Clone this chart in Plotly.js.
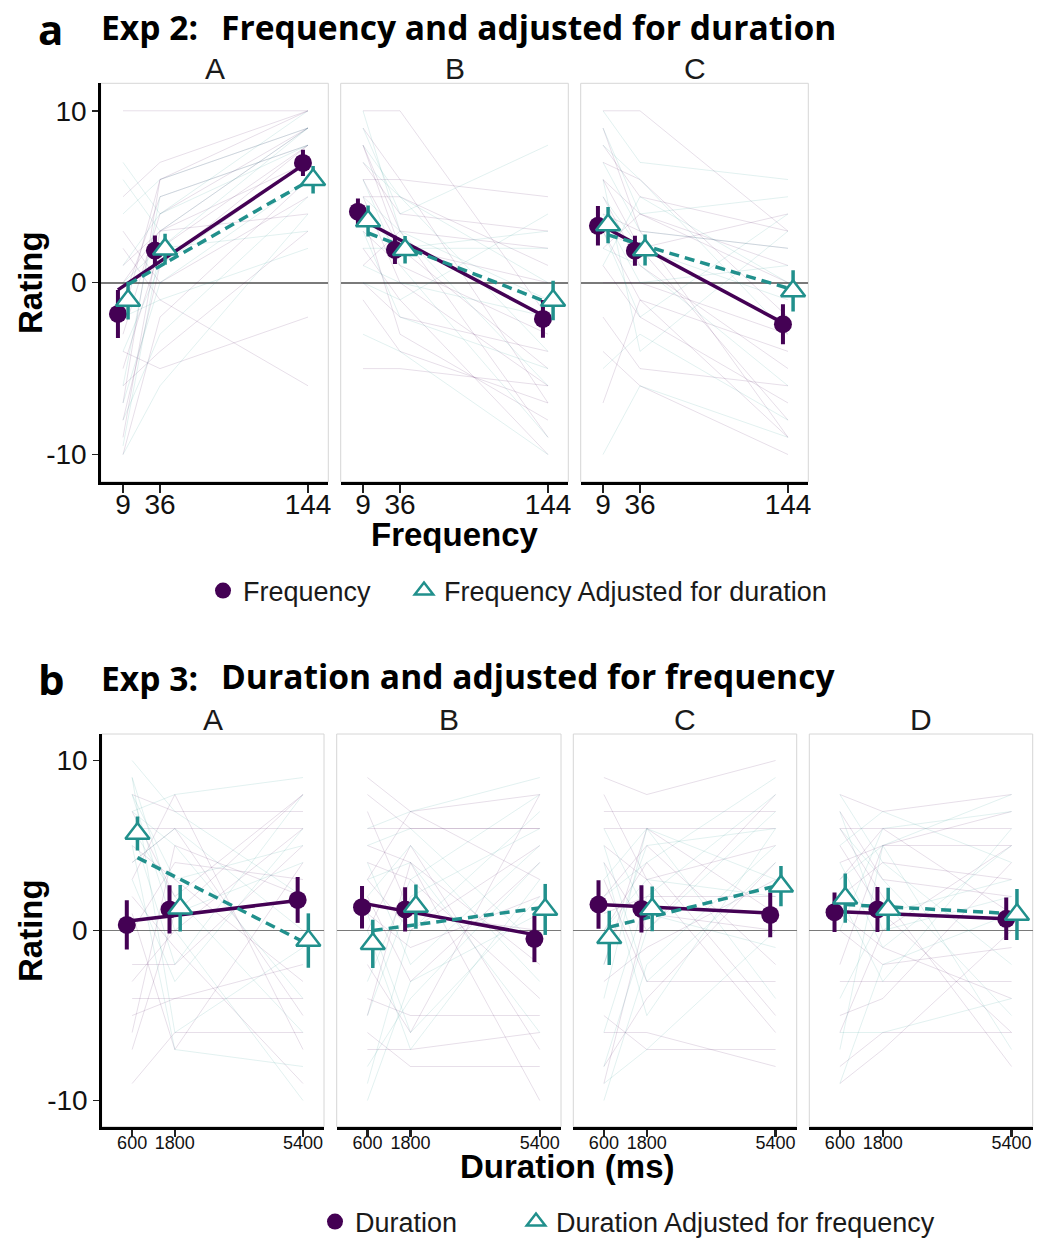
<!DOCTYPE html>
<html><head><meta charset="utf-8">
<script src="https://cdn.plot.ly/plotly-3.0.1.min.js"></script>
<style>html,body{margin:0;padding:0;background:#fff}</style>
</head><body><div id="chart" style="width:1038px;height:1241px"></div>
<script>
// ---------- DATA ----------
const freqLevels = [9, 36, 144];
const freqTickText = ['9', '36', '144'];
const durLevels = [600, 1800, 5400];
const durTickText = ['600', '1800', '5400'];
const exp2Panels = ['A', 'B', 'C'];
const exp3Panels = ['A', 'B', 'C', 'D'];
const ratingTicks = [-10, 0, 10];
const ratingTickText = ['-10', '0', '10'];

// Exp 2 group means and error half-widths
const exp2FreqMeanA = [-1.82, 1.87, 6.97];
const exp2FreqErrA  = [1.4, 0.87, 0.77];
const exp2AdjMeanA  = [-1.04, 1.95, 5.99];
const exp2AdjErrA   = [1.1, 0.9, 0.8];
const exp2FreqMeanB = [4.13, 1.91, -2.11];
const exp2FreqErrB  = [0.77, 0.82, 1.1];
const exp2AdjMeanB  = [3.59, 1.91, -1.04];
const exp2AdjErrB   = [0.9, 0.8, 1.15];
const exp2FreqMeanC = [3.31, 1.86, -2.42];
const exp2FreqErrC  = [1.15, 0.87, 1.16];
const exp2AdjMeanC  = [3.35, 1.9, -0.48];
const exp2AdjErrC   = [1.05, 0.9, 1.2];
// Exp 2 fitted line values at first and last level
const exp2FitFreqA = [-0.42, 6.84];
const exp2FitAdjA  = [-0.1, 6.07];
const exp2FitFreqB = [3.79, -1.91];
const exp2FitAdjB  = [2.89, -1.27];
const exp2FitFreqC = [3.44, -2.34];
const exp2FitAdjC  = [2.78, -0.41];

// Exp 3 group means and error half-widths
const exp3DurMeanA = [0.33, 1.24, 1.8];
const exp3DurErrA  = [1.45, 1.42, 1.35];
const exp3AdjMeanA = [5.71, 1.31, -0.59];
const exp3AdjErrA  = [1.0, 1.37, 1.6];
const exp3DurMeanB = [1.37, 1.24, -0.49];
const exp3DurErrB  = [1.25, 1.3, 1.37];
const exp3AdjMeanB = [-0.78, 1.41, 1.24];
const exp3AdjErrB  = [1.42, 1.3, 1.5];
const exp3DurMeanC = [1.53, 1.27, 0.92];
const exp3DurErrC  = [1.42, 1.39, 1.32];
const exp3AdjMeanC = [-0.43, 1.27, 2.61];
const exp3AdjErrC  = [1.6, 1.32, 1.18];
const exp3DurMeanD = [1.08, 1.24, 0.69];
const exp3DurErrD  = [1.16, 1.32, 1.25];
const exp3AdjMeanD = [1.9, 1.24, 0.94];
const exp3AdjErrD  = [1.45, 1.27, 1.5];
// Exp 3 fitted line values at first and last level
const exp3FitDurA = [0.55, 1.76];
const exp3FitAdjA = [4.29, -0.81];
const exp3FitDurB = [1.61, -0.24];
const exp3FitAdjB = [0.0, 1.37];
const exp3FitDurC = [1.53, 1.02];
const exp3FitAdjC = [0.2, 2.69];
const exp3FitDurD = [1.12, 0.69];
const exp3FitAdjD = [1.53, 0.98];

// Individual participant ratings (faint lines), estimated
const exp2IndivFreqA = [[-9,3,9],[-7,6,10],[-5,2,8],[-3,4,9],[-10,-2,6],[-2,6,9],[0,3,7],[5,7,10],[-6,-4,3],[3,0,5],[-8,1,8],[10,10,10],[-4,-5,-2],[1,3,4],[-1,5,8],[2,-1,-6]];
const exp2IndivAdjA  = [[-9.5,2,9],[-6,5,8],[-4,1,7],[7,4,10],[-8,-3,5],[0,2,3],[4,6,9],[-2,-1,2],[-7,0,6],[1,4,8],[-10,-6,4],[6,3,9]];
const exp2IndivFreqB = [[10,10,-2],[9,6,-7],[8,3,-9],[7,4,3],[6,2,-5],[5,5,1],[4,-3,-8],[3,1,-3],[2,-1,-10],[6,6,5],[-5,-5,-6],[1,3,2],[0,-2,-4],[5,0,-6],[8,2,0],[-1,-4,-7]];
const exp2IndivAdjB  = [[9,4,8],[7,5,0],[4,2,3],[6,1,-9],[3,-2,-5],[5,3,-1],[2,2,2],[-3,-4,-10],[8,5,-4],[1,0,-2],[0,-1,4],[10,3,-6]];
const exp2IndivFreqC = [[10,10,3],[8,5,3],[7,6,-2],[6,2,4],[5,1,-5],[4,3,-9],[3,-1,-4],[2,4,1],[1,-2,-7],[0,0,-3],[-2,-5,-6],[-7,-1,-9],[9,3,2],[-4,-6,-10],[6,4,0],[3,2,-8]];
const exp2IndivAdjC  = [[9,4,5],[7,3,2],[5,2,-1],[4,0,1],[8,6,-3],[2,1,-6],[-5,-3,-8],[6,-4,3],[1,5,0],[-10,-6,-9],[3,-2,4],[10,7,6]];
const exp3IndivDurA = [[8,7,7],[6,6,6],[7,2,8],[-2,-2,5],[-4,-4,-4],[3,8,-7],[-6,5,2],[1,-7,4],[5,3,-3],[-3,0,6],[-9,-6,-6],[2,-1,-9],[0,4,3],[-5,-4,-2],[4,6,-5],[-7,1,8]];
const exp3IndivAdjA = [[9,-6,-1],[8,3,5],[10,7,2],[6,-2,8],[7,5,-4],[5,-7,-8],[9,1,4],[4,6,0],[8,0,-10],[3,-3,6],[6,2,-6],[7,8,9]];
const exp3IndivDurB = [[9,7,8],[8,6,6],[6,6,6],[5,4,-2],[3,7,3],[-4,-5,-5],[2,-3,4],[0,5,-7],[-6,-8,-8],[7,1,0],[-2,-6,8],[4,3,-4],[1,-1,2],[-5,4,-10],[-7,-7,-6],[3,0,5]];
const exp3IndivAdjB = [[6,7,9],[4,-2,5],[-3,3,8],[-8,-4,4],[2,5,-3],[-9,0,7],[1,-6,2],[5,6,-1],[-5,2,6],[0,-7,3],[-10,-3,1],[3,4,-6]];
const exp3IndivDurC = [[9,8,10],[7,7,7],[6,6,6],[5,3,5],[3,-3,-3],[-5,-7,-7],[2,5,-2],[0,4,-5],[-2,6,1],[-8,-4,4],[4,0,8],[8,3,-6],[-3,-1,3],[-6,-6,-8],[1,2,2],[-9,1,0]];
const exp3IndivAdjC = [[4,-5,6],[-6,2,8],[-10,-2,5],[2,4,9],[-4,6,3],[-8,0,7],[0,3,2],[5,-3,4],[-2,5,6],[6,1,-1],[-9,-7,0],[3,6,-4]];
const exp3IndivDurD = [[8,7,8],[6,6,6],[4,5,5],[2,4,3],[-3,-3,-3],[5,1,-6],[-5,-4,4],[0,-2,-1],[7,3,2],[-8,-6,-6],[3,6,1],[-2,5,7],[1,-1,-4],[-9,-7,0],[6,2,-8],[-6,0,5]];
const exp3IndivAdjD = [[8,4,-2],[-7,5,8],[5,7,4],[2,-3,6],[-4,1,3],[6,3,-5],[0,6,7],[-9,-2,1],[3,5,-7],[7,0,2],[-6,-6,-4],[4,-1,5]];

// ---------- STYLE / LAYOUT CONSTANTS ----------
const W = 1038, H = 1241;
const PURPLE = '#440154', TEAL = '#21908C';
const FAINT_P = 'rgba(68,1,84,0.13)', FAINT_T = 'rgba(33,144,140,0.13)';
const SANS = 'Liberation Sans, Arial, sans-serif';
const TITLEF = 'Open Sans, Liberation Sans, sans-serif';
const dodge2 = 3.7, dodge3 = 150;

const exp2 = {
  A: {fm: exp2FreqMeanA, fe: exp2FreqErrA, am: exp2AdjMeanA, ae: exp2AdjErrA, ff: exp2FitFreqA, fa: exp2FitAdjA, ir: exp2IndivFreqA, ia: exp2IndivAdjA},
  B: {fm: exp2FreqMeanB, fe: exp2FreqErrB, am: exp2AdjMeanB, ae: exp2AdjErrB, ff: exp2FitFreqB, fa: exp2FitAdjB, ir: exp2IndivFreqB, ia: exp2IndivAdjB},
  C: {fm: exp2FreqMeanC, fe: exp2FreqErrC, am: exp2AdjMeanC, ae: exp2AdjErrC, ff: exp2FitFreqC, fa: exp2FitAdjC, ir: exp2IndivFreqC, ia: exp2IndivAdjC}
};
const exp3 = {
  A: {fm: exp3DurMeanA, fe: exp3DurErrA, am: exp3AdjMeanA, ae: exp3AdjErrA, ff: exp3FitDurA, fa: exp3FitAdjA, ir: exp3IndivDurA, ia: exp3IndivAdjA},
  B: {fm: exp3DurMeanB, fe: exp3DurErrB, am: exp3AdjMeanB, ae: exp3AdjErrB, ff: exp3FitDurB, fa: exp3FitAdjB, ir: exp3IndivDurB, ia: exp3IndivAdjB},
  C: {fm: exp3DurMeanC, fe: exp3DurErrC, am: exp3AdjMeanC, ae: exp3AdjErrC, ff: exp3FitDurC, fa: exp3FitAdjC, ir: exp3IndivDurC, ia: exp3IndivAdjC},
  D: {fm: exp3DurMeanD, fe: exp3DurErrD, am: exp3AdjMeanD, ae: exp3AdjErrD, ff: exp3FitDurD, fa: exp3FitAdjD, ir: exp3IndivDurD, ia: exp3IndivAdjD}
};

// panel pixel boxes
const secA = {panels: [[100.7,328.3],[340.7,568.3],[580.7,808.3]], top: 83.3, bottom: 481.7, xr: [-7.27, 158.8], yr: [-11.58, 11.6]};
const secB = {panels: [[101.7,324],[336.7,561],[573.3,796.7],[809.3,1032.7]], top: 734, bottom: 1126.7, xr: [-255, 5990], yr: [-11.54, 11.56]};

const traces = [];
const layout = {
  width: W, height: H, margin: {l:0, r:0, t:0, b:0, autoexpand: false},
  paper_bgcolor: '#fff', plot_bgcolor: 'rgba(0,0,0,0)',
  hovermode: false, shapes: [], annotations: []
};

function addSection(sec, panelNames, dataMap, levels, tickText, dodge, axStart, tickFontSize, ticklenX, standoff) {
  panelNames.forEach((p, i) => {
    const n = axStart + i;
    const xs = n === 1 ? 'x' : 'x' + n, ys = n === 1 ? 'y' : 'y' + n;
    const xk = n === 1 ? 'xaxis' : 'xaxis' + n, yk = n === 1 ? 'yaxis' : 'yaxis' + n;
    const [px0, px1] = sec.panels[i];
    layout[xk] = {
      domain: [px0 / W, px1 / W], anchor: ys, range: sec.xr, fixedrange: true,
      tickvals: levels, ticktext: tickText, ticks: 'outside', ticklen: ticklenX, tickwidth: 2.5, tickcolor: '#222',
      ticklabelstandoff: standoff,
      tickfont: {family: SANS, size: tickFontSize, color: '#111'},
      showline: true, linecolor: '#000', linewidth: 3, showgrid: false, zeroline: false, mirror: false
    };
    const first = i === 0;
    layout[yk] = {
      domain: [1 - sec.bottom / H, 1 - sec.top / H], anchor: xs, range: sec.yr, fixedrange: true,
      tickvals: ratingTicks, ticktext: ratingTickText, ticks: first ? 'outside' : '', ticklen: 6, tickwidth: 1.5, tickcolor: '#222',
      showticklabels: first, tickfont: {family: SANS, size: 28, color: '#111'},
      showline: first, linecolor: '#000', linewidth: 2.5, showgrid: false,
      zeroline: true, zerolinecolor: '#7a7a7a', zerolinewidth: 1.8
    };
    // panel border
    layout.shapes.push({type: 'rect', xref: xs + ' domain', yref: ys + ' domain', x0: 0, x1: 1, y0: 0, y1: 1,
      line: {color: '#d6d6d6', width: 1}, layer: 'below'});
    // panel title
    layout.annotations.push({text: p, xref: 'paper', yref: 'paper', x: (px0 + px1) / 2 / W, y: 1 - (sec.top - 15) / H,
      xanchor: 'center', yanchor: 'middle', showarrow: false, font: {family: SANS, size: 30, color: '#1a1a1a'}});

    const d = dataMap[p];
    // faint individual lines
    d.ir.forEach(v => traces.push({x: levels, y: v, xaxis: xs, yaxis: ys, mode: 'lines', line: {color: FAINT_P, width: 1}, showlegend: false, hoverinfo: 'skip'}));
    d.ia.forEach(v => traces.push({x: levels, y: v, xaxis: xs, yaxis: ys, mode: 'lines', line: {color: FAINT_T, width: 1}, showlegend: false, hoverinfo: 'skip'}));
    const xl = [levels[0], levels[levels.length - 1]];
    // fitted lines
    traces.push({x: xl.map(v => v - dodge), y: d.ff, xaxis: xs, yaxis: ys, mode: 'lines', line: {color: PURPLE, width: 3.5}, showlegend: false});
    traces.push({x: xl.map(v => v + dodge), y: d.fa, xaxis: xs, yaxis: ys, mode: 'lines', line: {color: TEAL, width: 3.5, dash: '10px,6px'}, showlegend: false});
    // means with error bars
    traces.push({x: levels.map(v => v - dodge), y: d.fm, xaxis: xs, yaxis: ys, mode: 'markers',
      marker: {symbol: 'circle', size: 18, color: PURPLE, line: {width: 0}},
      error_y: {type: 'data', array: d.fe, color: PURPLE, thickness: 4, width: 0}, showlegend: false});
    traces.push({x: levels.map(v => v + dodge), y: d.am, xaxis: xs, yaxis: ys, mode: 'markers',
      marker: {symbol: 'triangle-up', size: 21, color: '#fff', line: {width: 2.5, color: TEAL}},
      error_y: {type: 'data', array: d.ae, color: TEAL, thickness: 3.5, width: 0}, showlegend: false});
  });
}

addSection(secA, exp2Panels, exp2, freqLevels, freqTickText, dodge2, 1, 28, 8, -12);
addSection(secB, exp3Panels, exp3, durLevels, durTickText, dodge3, 4, 18, 7, -9);

// legends
function legendTrace(name, leg, symbol) {
  const m = symbol === 'circle'
    ? {symbol: 'circle', size: 18, color: PURPLE, line: {width: 0}}
    : {symbol: 'triangle-up', size: 18, color: '#fff', line: {width: 2.5, color: TEAL}};
  traces.push({x: [null], y: [null], xaxis: 'x', yaxis: 'y', mode: 'markers', name: name, legend: leg, showlegend: true, marker: m});
}
legendTrace('Frequency', 'legend', 'circle');
legendTrace('Frequency Adjusted for duration', 'legend2', 'triangle');
legendTrace('Duration', 'legend3', 'circle');
legendTrace('Duration Adjusted for frequency', 'legend4', 'triangle');
function legendBox(sx, sy) {
  return {x: (sx - 21) / W, y: 1 - sy / H, xanchor: 'left', yanchor: 'middle', orientation: 'h',
    bgcolor: 'rgba(0,0,0,0)', borderwidth: 0, font: {family: SANS, size: 27, color: '#1a1a1a'}, itemclick: false, itemdoubleclick: false};
}
layout.legend = legendBox(224, 591);
layout.legend2 = legendBox(425, 591);
layout.legend3 = legendBox(336, 1222);
layout.legend4 = legendBox(537, 1222);
layout.showlegend = true;

// headings and axis titles
function ann(text, px, py, size, family, anchor, angle) {
  layout.annotations.push({text: text, xref: 'paper', yref: 'paper', x: px / W, y: 1 - py / H, xanchor: anchor || 'left', yanchor: 'middle',
    showarrow: false, textangle: angle || 0, font: {family: family, size: size, color: '#000'}});
}
ann('<b>a</b>', 36, 29, 42, TITLEF);
ann('<b>Exp 2:</b>', 99, 27, 33.6, TITLEF);
ann('<b>Frequency and adjusted for duration</b>', 219, 27, 33.6, TITLEF);
ann('<b>b</b>', 36, 678, 42, TITLEF);
ann('<b>Exp 3:</b>', 99, 678, 33.6, TITLEF);
ann('<b>Duration and adjusted for frequency</b>', 219, 676, 33.6, TITLEF);
ann('<b>Frequency</b>', 455, 535, 33, SANS, 'center');
ann('<b>Duration (ms)</b>', 567, 1166, 33, SANS, 'center');
ann('<b>Rating</b>', 30, 283, 33, SANS, 'center', -90);
ann('<b>Rating</b>', 30, 931, 33, SANS, 'center', -90);

Plotly.newPlot('chart', traces, layout, {displayModeBar: false, staticPlot: true});
</script></body></html>
